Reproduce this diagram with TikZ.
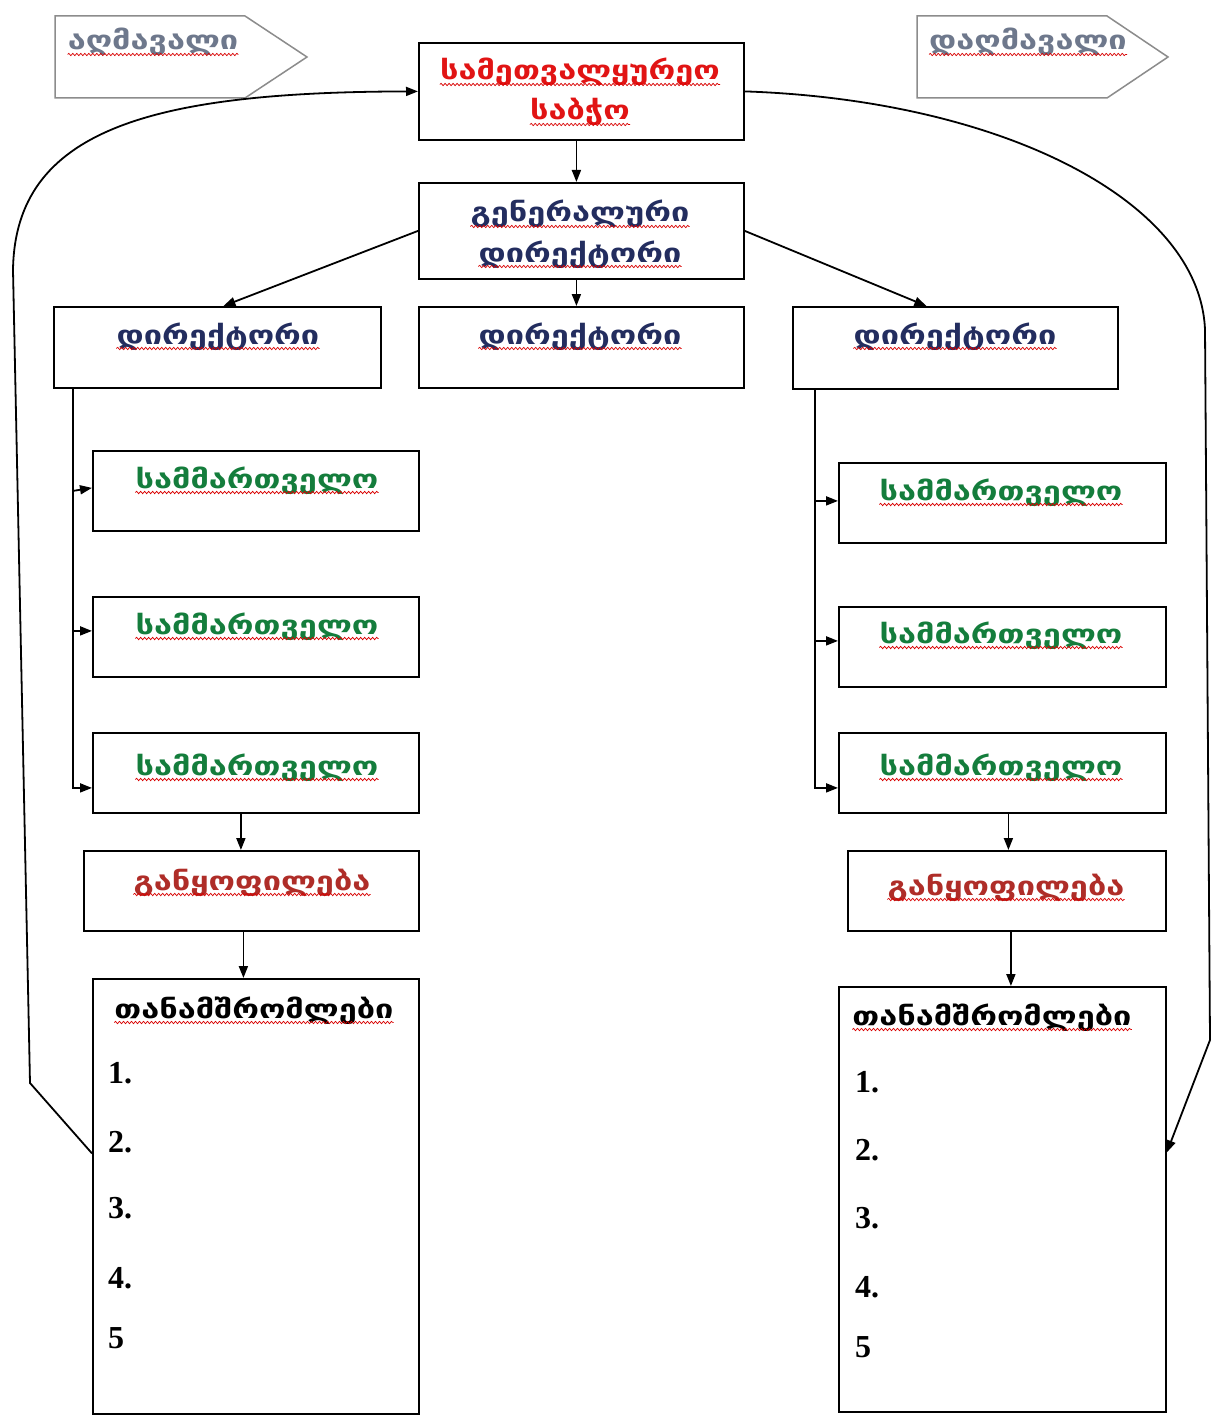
\documentclass[tikz,border=0pt]{standalone}
\usepackage{fontspec}
\usetikzlibrary{arrows.meta,decorations.pathmorphing}
\newfontfamily\geo[FakeStretch=1.25]{DejaVu Sans}
\newfontfamily\numf{Liberation Serif}
\definecolor{cRed}{RGB}{225,20,20}
\definecolor{cNavy}{RGB}{35,45,95}
\definecolor{cGreen}{RGB}{20,125,60}
\definecolor{cBrown}{RGB}{175,45,40}
\definecolor{cGray}{RGB}{110,120,140}
\definecolor{cEdge}{RGB}{140,140,140}
\tikzset{
  box/.style={draw, line width=1.8pt, inner sep=0pt, anchor=north west},
  gtxt/.style={inner sep=0pt, anchor=base, font=\geo\bfseries\fontsize{26}{30}\selectfont},
  ntxt/.style={inner sep=0pt, anchor=base west, font=\numf\bfseries\fontsize{32}{36}\selectfont},
  arr/.style={line width=1.8pt, -{Triangle[length=12pt,width=9pt]}},
  wv/.style={draw=red!85!black, line width=0.7pt, decorate, decoration={snake, amplitude=1.2pt, segment length=4pt}},
  pent/.style={draw=cEdge, line width=1.5pt, fill=white}
}
\newcommand\wvline[1]{\draw[wv] ([yshift=-4.5pt]#1.base west) -- ([yshift=-4.5pt]#1.base east);}
\begin{document}
\begin{tikzpicture}[x=1pt,y=-1pt]
\useasboundingbox[fill=white] (0,0) rectangle (1210,1415);

% pentagon arrows
\draw[pent] (55,16) -- (245,16) -- (307,57) -- (245,98) -- (55,98) -- cycle;
\node[gtxt, text=cGray] (up) at (153,50) {აღმავალი};
\draw[pent] (917,16) -- (1107,16) -- (1168,57) -- (1107,98) -- (917,98) -- cycle;
\node[gtxt, text=cGray] (down) at (1028,50) {დაღმავალი};

% boxes
\node[box, minimum width=325pt, minimum height=97pt] (top) at (418,42) {};
\node[box, minimum width=325pt, minimum height=96pt] (gd) at (418,182) {};
\node[box, minimum width=327pt, minimum height=81pt] (d1) at (53,306) {};
\node[box, minimum width=325pt, minimum height=81pt] (d2) at (418,306) {};
\node[box, minimum width=325pt, minimum height=82pt] (d3) at (792,306) {};
\node[box, minimum width=326pt, minimum height=80pt] (s1) at (92,450) {};
\node[box, minimum width=326pt, minimum height=80pt] (s2) at (92,596) {};
\node[box, minimum width=326pt, minimum height=80pt] (s3) at (92,732) {};
\node[box, minimum width=327pt, minimum height=80pt] (s4) at (838,462) {};
\node[box, minimum width=327pt, minimum height=80pt] (s5) at (838,606) {};
\node[box, minimum width=327pt, minimum height=80pt] (s6) at (838,732) {};
\node[box, minimum width=335pt, minimum height=80pt] (g1) at (83,850) {};
\node[box, minimum width=318pt, minimum height=80pt] (g2) at (847,850) {};
\node[box, minimum width=326pt, minimum height=435pt] (e1) at (92,978) {};
\node[box, minimum width=327pt, minimum height=425pt] (e2) at (838,986) {};

% texts
\node[gtxt, text=cRed] (t1) at (580,80) {სამეთვალყურეო};
\node[gtxt, text=cRed] (t2) at (580,120) {საბჭო};
\node[gtxt, text=cNavy] (t3) at (580,222) {გენერალური};
\node[gtxt, text=cNavy] (t4) at (580,262) {დირექტორი};
\node[gtxt, text=cNavy] (t5) at (218,344) {დირექტორი};
\node[gtxt, text=cNavy] (t6) at (580,344) {დირექტორი};
\node[gtxt, text=cNavy] (t7) at (955,344) {დირექტორი};
\node[gtxt, text=cGreen] (t8) at (257,488) {სამმართველო};
\node[gtxt, text=cGreen] (t9) at (257,634) {სამმართველო};
\node[gtxt, text=cGreen] (t10) at (257,775) {სამმართველო};
\node[gtxt, text=cGreen] (t11) at (1001,500) {სამმართველო};
\node[gtxt, text=cGreen] (t12) at (1001,643) {სამმართველო};
\node[gtxt, text=cGreen] (t13) at (1001,775) {სამმართველო};
\node[gtxt, text=cBrown] (t14) at (252,890) {განყოფილება};
\node[gtxt, text=cBrown] (t15) at (1006,895) {განყოფილება};
\node[gtxt, text=black] (t16) at (254,1018) {თანამშრომლები};
\node[gtxt, text=black] (t17) at (992,1025) {თანამშრომლები};

\foreach \n in {up,down,t1,t2,t3,t4,t5,t6,t7,t8,t9,t10,t11,t12,t13,t14,t15,t16,t17}{\wvline{\n}}

\node[ntxt] (a1) at (108,1083) {1.};
\node[ntxt] (a2) at (108,1152) {2.};
\node[ntxt] (a3) at (108,1218) {3.};
\node[ntxt] (a4) at (108,1288) {4.};
\node[ntxt] (a5) at (108,1348) {5};
\node[ntxt] (b1) at (855,1092) {1.};
\node[ntxt] (b2) at (855,1160) {2.};
\node[ntxt] (b3) at (855,1228) {3.};
\node[ntxt] (b4) at (855,1297) {4.};
\node[ntxt] (b5) at (855,1357) {5};

% connectors
\draw[arr] ([xshift=-5pt]top.south) -- ([xshift=-5pt]gd.north);
\draw[arr] (gd.west) -- ([xshift=6pt]d1.north);
\draw[arr] ([xshift=-5pt]gd.south) -- ([xshift=-5pt]d2.north);
\draw[arr] (gd.east) -- ([xshift=-29pt]d3.north);

\coordinate (lv) at ([xshift=20pt]d1.south west);
\draw[arr] (lv) |- ([yshift=-15pt]s3.west);
\draw[arr] (lv |- s1.west) -- ([yshift=3pt]s1.west);
\draw[arr] ([yshift=6pt]lv |- s2.west) -- ([yshift=6pt]s2.west);

\coordinate (rv) at ([xshift=23pt]d3.south west);
\draw[arr] (rv) |- ([yshift=-15pt]s6.west);
\draw[arr] ([yshift=2pt]rv |- s4.west) -- ([yshift=2pt]s4.west);
\draw[arr] ([yshift=6pt]rv |- s5.west) -- ([yshift=6pt]s5.west);

\draw[arr] ([xshift=-15pt]s3.south) -- ([xshift=-15pt]s3.south |- g1.north);
\draw[arr] ([xshift=-8pt]g1.south) -- ([xshift=-8pt]g1.south |- e1.north);
\draw[arr] ([xshift=6pt]s6.south) -- ([xshift=6pt]s6.south |- g2.north);
\draw[arr] ([xshift=4pt]g2.south) -- ([xshift=4pt]g2.south |- e2.north);

\coordinate (l1) at (30,1083);
\coordinate (l2) at (13,270);
\draw[arr] ([yshift=43pt]e1.west) -- (l1) -- (l2) .. controls (15,130) and (150,92) .. (top.west);
\coordinate (r1) at (1205,330);
\coordinate (r2) at (1210,1040);
\draw[arr] (top.east) .. controls (1000,100) and (1200,200) .. (r1) -- (r2) -- ([yshift=47pt]e2.east);
\end{tikzpicture}
\end{document}
